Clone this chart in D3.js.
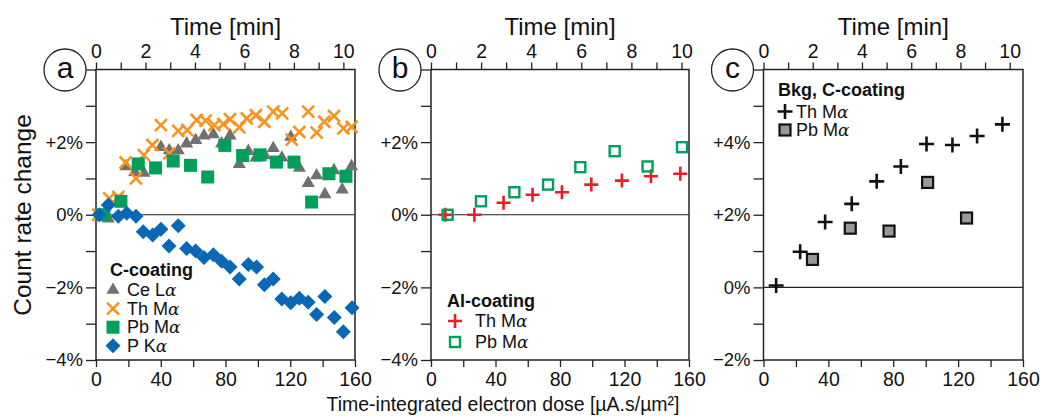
<!DOCTYPE html>
<html><head><meta charset="utf-8">
<script src="https://cdn.jsdelivr.net/npm/d3@7"></script>
<style>
body{margin:0;background:#fff;}
svg{font-family:"Liberation Sans",Arial,sans-serif;}
</style></head><body>
<svg id="chart" width="1042" height="416"></svg>
<script>
// ---- Panel a (C-coating) ----
const aCeDose = [7.6,18.5,24,29.6,40.1,45.3,50.8,56,61.6,66.7,72.5,77.6,82.8,88.5,94.1,98.8,104.4,109.5,114.8,120.3,125.6,131.1,136.3,141.4,147,152.1,157.9];
const aCeVal  = [-0.11,1.33,1.17,1.15,1.86,1.77,1.77,1.96,2.05,2.18,2.21,1.96,2.18,1.39,1.75,1.57,1.63,1.83,1.57,2.14,1.29,0.87,1.08,0.56,1.22,0.69,1.33];
const aThDose = [1.4,8.2,13.8,18.3,24.7,29.6,34.8,40.1,45.3,50.8,56.4,62.2,67.7,73.1,78.6,82.8,88.5,93.1,98.8,104,109.5,115,120.9,125.6,131.1,136.3,141,147,152.8,157.9];
const aThVal  = [0,0.45,0.49,1.44,1.0,1.64,1.92,2.47,1.69,2.31,2.33,2.61,2.59,2.47,2.5,2.63,2.41,2.65,2.74,2.56,2.84,2.79,2.07,2.28,2.84,2.26,2.56,2.72,2.38,2.42];
const aPbDose = [4.9,15.4,26.1,36.8,47.7,58.4,69,79.6,90.6,101.3,111.5,122.3,133.2,143.9,154.4];
const aPbVal  = [0,0.37,1.40,1.29,1.48,1.36,1.04,1.91,1.63,1.65,1.45,1.45,0.35,1.13,1.06];
const aPDose  = [2,7.6,13.8,19,24.7,29.2,35,40.1,45.1,50.8,56,61.6,66.7,72.5,77.6,82.8,88.5,94.1,99.2,104,109.5,114.8,120.3,125.6,131.1,136.3,141.4,147.2,152.8,158.2];
const aPVal   = [0,0.27,-0.04,0.04,-0.04,-0.47,-0.56,-0.40,-0.86,-0.30,-0.93,-1.0,-1.18,-1.10,-1.28,-1.44,-1.77,-1.37,-1.44,-1.93,-1.77,-2.32,-2.42,-2.30,-2.41,-2.75,-2.25,-2.83,-3.22,-2.56];
// ---- Panel b (Al-coating) ----
const bThDose = [8.9,26.9,45,63,81.2,99.4,118.4,136.4,154.6];
const bThVal  = [0,0,0.33,0.55,0.62,0.83,0.94,1.06,1.13];
const bPbDose = [10.3,31,51.7,72.6,92.6,113.9,134.3,155.7];
const bPbVal  = [0,0.37,0.62,0.83,1.31,1.75,1.33,1.86];
// ---- Panel c (Bkg, C-coating) ----
const cThDose = [7.8,22.6,38,54.4,69.8,84.7,100.5,116.5,131.7,147.3];
const cThVal  = [0.05,0.98,1.80,2.30,2.92,3.33,3.95,3.92,4.17,4.49];
const cPbDose = [30.2,53.5,77.4,101.2,125.2];
const cPbVal  = [0.77,1.63,1.55,2.89,1.91];
// ---- axes / labels ----
const doseTicks = [0,20,40,60,80,100,120,140,160];
const doseLabels = [0,40,80,120,160];
const timeTicks = [0,1,2,3,4,5,6,7,8,9,10];
const timeLabels = [0,2,4,6,8,10];
const panelLetters = ["a","b","c"];
const timeTitle = "Time [min]";
const yTitle = "Count rate change";
const xTitle = "Time-integrated electron dose [µA.s/µm²]";
const legendTitles = ["C-coating","Al-coating","Bkg, C-coating"];

const svg = d3.select("#chart");
const yTop = 69.5, yBot = 360;
const panels = [
  {x0:96, x1:355, yDom:[-4,4], tMax:10.47, yTicks:[-4,-3,-2,-1,0,1,2,3,4], yLabels:[-4,-2,0,2]},
  {x0:431, x1:689, yDom:[-4,4], tMax:10.3, yTicks:[-4,-3,-2,-1,0,1,2,3,4], yLabels:[-4,-2,0,2]},
  {x0:763.5, x1:1023, yDom:[-2,6], tMax:10.54, yTicks:[-2,-1,0,1,2,3,4,5,6], yLabels:[-2,0,2,4]}
];
const fmtPct = v => v>0 ? "+"+v+"%" : (v<0 ? "\u2212"+Math.abs(v)+"%" : "0%");

const shapes = {
  tri: (g)=>g.append("path").attr("d",d3.symbol(d3.symbolTriangle,75)()).attr("fill","#707070"),
  xx: (g)=>g.append("path").attr("d","M-6,-6L6,6M-6,6L6,-6").attr("stroke","#F7941D").attr("stroke-width",2.6).attr("fill","none"),
  sq: (g)=>g.append("rect").attr("x",-6.5).attr("y",-6.5).attr("width",13).attr("height",13).attr("fill","#00A05A"),
  dia: (g)=>g.append("path").attr("d","M0,-7.5L7.5,0L0,7.5L-7.5,0Z").attr("fill","#0868B5"),
  plusR: (g)=>g.append("path").attr("d","M-7,0H7M0,-7V7").attr("stroke","#ED1C24").attr("stroke-width",2.6).attr("fill","none"),
  osq: (g)=>g.append("rect").attr("x",-5).attr("y",-5).attr("width",10).attr("height",10).attr("fill","none").attr("stroke","#00A05A").attr("stroke-width",2.4),
  plusK: (g)=>g.append("path").attr("d","M-7.5,0H7.5M0,-7.5V7.5").attr("stroke","#111").attr("stroke-width",2.6).attr("fill","none"),
  gsq: (g)=>g.append("rect").attr("x",-5.5).attr("y",-5.5).attr("width",11).attr("height",11).attr("fill","#999").attr("stroke","#111").attr("stroke-width",2.2)
};

const series = [
  [[aCeDose,aCeVal,"tri","Ce L","α"],[aThDose,aThVal,"xx","Th M","α"],[aPbDose,aPbVal,"sq","Pb M","α"],[aPDose,aPVal,"dia","P K","α"]],
  [[bThDose,bThVal,"plusR","Th M","α"],[bPbDose,bPbVal,"osq","Pb M","α"]],
  [[cThDose,cThVal,"plusK","Th M","α"],[cPbDose,cPbVal,"gsq","Pb M","α"]]
];
const legendPos = [
  {tx0:110, ty:276, mx:113, y0:290, dy:18.6, tx:127},
  {tx0:447, ty:307, mx:455, y0:321, dy:21, tx:475},
  {tx0:778, ty:96, mx:785, y0:111.5, dy:18.5, tx:796}
];

panels.forEach((p,i)=>{
  const x = d3.scaleLinear().domain([0,160]).range([p.x0,p.x1]);
  const t = d3.scaleLinear().domain([0,p.tMax]).range([p.x0,p.x1]);
  const y = d3.scaleLinear().domain(p.yDom).range([yBot,yTop]);
  const g = svg.append("g");

  const ax = (fs)=>(sel)=>{sel.selectAll(".domain").remove(); sel.selectAll("line").attr("stroke","#222").attr("stroke-width",1.3); sel.selectAll("text").attr("font-size",fs).attr("fill","#111");};
  g.append("g").attr("transform",`translate(${p.x0},0)`)
    .call(d3.axisLeft(y).tickValues(p.yTicks).tickSize(10).tickPadding(3).tickFormat(v=>p.yLabels.includes(v)?fmtPct(v):""))
    .call(ax(18.5));
  g.append("g").attr("transform",`translate(0,${yBot})`)
    .call(d3.axisBottom(x).tickValues(doseTicks).tickSize(7).tickPadding(5).tickFormat(v=>doseLabels.includes(v)?v:""))
    .call(ax(19.5));
  g.append("g").attr("transform",`translate(0,${yTop})`)
    .call(d3.axisTop(t).tickValues(timeTicks).tickSize(7).tickPadding(5).tickFormat(v=>timeLabels.includes(v)?v:""))
    .call(ax(19.5));

  g.append("rect").attr("x",p.x0).attr("y",yTop).attr("width",p.x1-p.x0).attr("height",yBot-yTop)
    .attr("fill","none").attr("stroke","#222").attr("stroke-width",1.5);
  g.append("line").attr("x1",p.x0).attr("x2",p.x1).attr("y1",y(0)).attr("y2",y(0)).attr("stroke","#222").attr("stroke-width",1.2);

  series[i].forEach(s=>{
    const [ds,vs,sh] = s;
    ds.forEach((d,k)=>{
      const m = g.append("g").attr("transform",`translate(${x(d)},${y(vs[k])})`);
      shapes[sh](m);
    });
  });

  const L = legendPos[i];
  g.append("text").attr("x",L.tx0).attr("y",L.ty).attr("font-size",18).attr("font-weight","bold").attr("fill","#111").text(legendTitles[i]);
  series[i].forEach((s,k)=>{
    const yy = L.y0 + k*L.dy;
    const m = g.append("g").attr("transform",`translate(${L.mx},${yy})`);
    shapes[s[2]](m);
    const tx = g.append("text").attr("x",L.tx).attr("y",yy+6).attr("font-size",18).attr("fill","#111");
    tx.append("tspan").text(s[3]);
    tx.append("tspan").attr("font-family","'DejaVu Serif',serif").attr("font-style","italic").attr("font-size",17).text(s[4]);
  });

  g.append("text").attr("x",(p.x0+p.x1)/2).attr("y",35).attr("text-anchor","middle").attr("font-size",24).attr("fill","#111").text(timeTitle);

  const cx = p.x0-31, cy = 70;
  g.append("circle").attr("cx",cx).attr("cy",cy).attr("r",21).attr("fill","#fff").attr("stroke","#222").attr("stroke-width",1.3);
  g.append("text").attr("x",cx).attr("y",cy+8).attr("text-anchor","middle").attr("font-size",30).attr("fill","#111").text(panelLetters[i]);
});

svg.append("text").attr("transform","translate(31,215) rotate(-90)").attr("text-anchor","middle").attr("font-size",24.5).attr("fill","#111").text(yTitle);
svg.append("text").attr("x",503).attr("y",411).attr("text-anchor","middle").attr("font-size",21)
  .attr("textLength",353).attr("lengthAdjust","spacingAndGlyphs").attr("fill","#111").text(xTitle);
</script>
</body></html>
